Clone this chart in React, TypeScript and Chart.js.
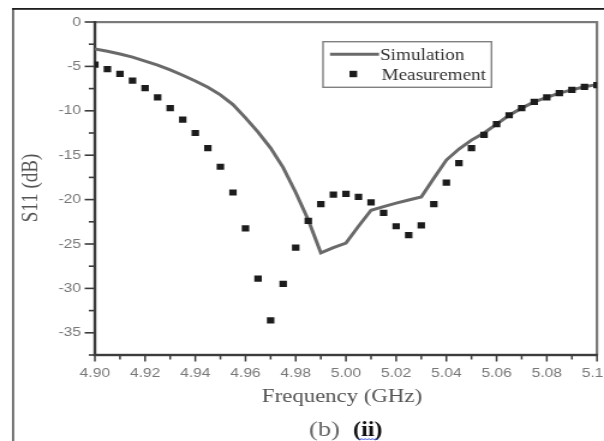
import React, { useEffect, useRef } from 'react';
import { Chart, registerables } from 'chart.js';

Chart.register(...registerables);

// ---------- data ----------
const FREQ_GHZ = [
  4.900, 4.905, 4.910, 4.915, 4.920, 4.925, 4.930, 4.935, 4.940, 4.945,
  4.950, 4.955, 4.960, 4.965, 4.970, 4.975, 4.980, 4.985, 4.990, 4.995,
  5.000, 5.005, 5.010, 5.015, 5.020, 5.025, 5.030, 5.035, 5.040, 5.045,
  5.050, 5.055, 5.060, 5.065, 5.070, 5.075, 5.080, 5.085, 5.090, 5.095,
  5.100,
];

const SIMULATION_DB = [
  -3.05, -3.3, -3.6, -3.95, -4.4, -4.85, -5.4, -6.0, -6.65, -7.35,
  -8.2, -9.3, -10.8, -12.4, -14.2, -16.4, -19.2, -22.3, -26.0, -25.4,
  -24.9, -23.0, -21.2, -20.8, -20.4, -20.05, -19.7, -17.6, -15.55, -14.3,
  -13.3, -12.5, -11.5, -10.5, -9.7, -9.0, -8.5, -8.0, -7.65, -7.3,
  -7.05,
];

const MEASUREMENT_DB = [
  -4.8, -5.3, -5.85, -6.6, -7.45, -8.5, -9.7, -11.0, -12.5, -14.2,
  -16.3, -19.2, -23.25, -28.9, -33.6, -29.5, -25.4, -22.4, -20.5, -19.45,
  -19.35, -19.7, -20.3, -21.5, -23.0, -24.0, -22.9, -20.5, -18.1, -15.9,
  -14.2, -12.7, -11.5, -10.5, -9.7, -9.0, -8.5, -8.0, -7.65, -7.3,
  -7.1,
];

const X_TICK_LABELS = ['4.90', '4.92', '4.94', '4.96', '4.98', '5.00', '5.02', '5.04', '5.06', '5.08', '5.10'];
const Y_TICK_LABELS = ['0', '-5', '-10', '-15', '-20', '-25', '-30', '-35'];

const SERIES_NAMES = ['Simulation', 'Measurement'];
const X_TITLE = 'Frequency (GHz)';
const Y_TITLE = 'S11 (dB)';
const CAPTION_A = '(b)';
const CAPTION_B = '(ii)';

// ---------- layout (internal canvas px; canvas is stretched horizontally) ----------
const W = 503;
const H = 441;
const CSS_W = 604;
const S = CSS_W / W;
const px = (displayX: number) => displayX / S;

const SIM_COLOR = '#6a6a6a';
const MEAS_COLOR = '#1c1c1c';
const AXIS_COLOR = '#3c3c3c';
const BORDER_COLOR = '#7a7a7a';

const isMajorX = (v: number) => X_TICK_LABELS.includes(Number(v).toFixed(2));
const isMajorY = (v: number) => Y_TICK_LABELS.includes(String(Number(v)));

const decorPlugin = {
  id: 'decor',
  beforeDraw(chart: any) {
    const ctx = chart.ctx;
    ctx.save();
    ctx.fillStyle = '#ffffff';
    ctx.fillRect(0, 0, W, H);
    // outer picture frame
    ctx.fillStyle = '#666666';
    ctx.fillRect(px(12), 9, 1.8, H - 9);
    ctx.fillStyle = '#1e1e1e';
    ctx.fillRect(px(12), 8, W - px(12), 1.8);
    ctx.restore();
  },
  beforeDatasetsDraw(chart: any) {
    const ctx = chart.ctx;
    const a = chart.chartArea;
    const xs = chart.scales.x;
    const ys = chart.scales.y;
    const L = Math.round(a.left), R = Math.round(a.right), T = Math.round(a.top), B = Math.round(a.bottom);
    ctx.save();

    // plot border (top/right lighter)
    ctx.fillStyle = BORDER_COLOR;
    ctx.fillRect(L, T - 1, R - L + 1, 2.2);
    ctx.fillRect(R - 1, T - 1, 2.2, B - T + 1);

    // axes
    ctx.fillStyle = AXIS_COLOR;
    ctx.fillRect(L - 1.2, T - 1, 2.4, B - T + 2);
    ctx.fillRect(L - 1.2, B - 1.2, R - L + 2.2, 2.4);

    // tick marks
    for (const t of ys.ticks) {
      const y = ys.getPixelForValue(t.value);
      const len = isMajorY(t.value) ? 7.5 : 4;
      ctx.fillRect(L - 1 - len, y - 0.8, len, 1.6);
    }
    for (const t of xs.ticks) {
      const x = xs.getPixelForValue(t.value);
      const len = isMajorX(t.value) ? 5.5 : 3.5;
      ctx.fillRect(x - 0.75, B + 1, 1.5, len);
    }
    ctx.restore();
  },
  afterDraw(chart: any) {
    const ctx = chart.ctx;
    ctx.save();

    // legend
    const bx0 = px(323), bx1 = px(491.5), by0 = 41.7, by1 = 87.3;
    ctx.fillStyle = '#ffffff';
    ctx.fillRect(bx0, by0, bx1 - bx0, by1 - by0);
    ctx.strokeStyle = '#808080';
    ctx.lineWidth = 1.4;
    ctx.strokeRect(bx0, by0, bx1 - bx0, by1 - by0);
    const ds0 = chart.data.datasets[0];
    const ds1 = chart.data.datasets[1];
    ctx.strokeStyle = ds0.borderColor;
    ctx.lineWidth = ds0.borderWidth;
    ctx.beginPath();
    ctx.moveTo(px(330), 54.3);
    ctx.lineTo(px(379), 54.3);
    ctx.stroke();
    ctx.fillStyle = ds1.backgroundColor;
    ctx.fillRect(px(353.3) - 3.2, 74 - 3.2, 6.4, 6.4);
    ctx.fillStyle = '#333333';
    ctx.font = '16px "Liberation Serif", serif';
    ctx.textAlign = 'left';
    ctx.textBaseline = 'alphabetic';
    ctx.fillText(ds0.label, px(380), 60);
    ctx.fillText(ds1.label, px(381.5), 79.5);

    // axis titles
    ctx.fillStyle = '#555555';
    ctx.font = '19px "Liberation Serif", serif';
    ctx.textAlign = 'center';
    ctx.fillText(X_TITLE, px(342), 402);
    ctx.save();
    ctx.translate(px(31), 188);
    ctx.rotate(-Math.PI / 2);
    ctx.textBaseline = 'middle';
    ctx.fillText(Y_TITLE, 0, 0);
    ctx.restore();

    // caption
    ctx.textAlign = 'left';
    ctx.textBaseline = 'alphabetic';
    ctx.fillStyle = '#666666';
    ctx.font = '22px "Liberation Serif", serif';
    ctx.fillText(CAPTION_A, px(309), 436);
    ctx.fillStyle = '#111111';
    ctx.font = 'bold 20px "Liberation Serif", serif';
    ctx.fillText(CAPTION_B, px(353), 436);
    // spell-check style wavy underline
    ctx.strokeStyle = '#3b4fd8';
    ctx.lineWidth = 1;
    ctx.beginPath();
    const ux0 = px(358), ux1 = px(378);
    for (let x = ux0, i = 0; x <= ux1; x += 1.5, i++) {
      const y = 438.5 + (i % 2 === 0 ? 0 : 1.5);
      if (i === 0) ctx.moveTo(x, y); else ctx.lineTo(x, y);
    }
    ctx.stroke();

    ctx.restore();
  },
};

export default function App() {
  const ref = useRef<HTMLCanvasElement>(null);

  useEffect(() => {
    document.body.style.margin = '0';
    const canvas = ref.current;
    if (!canvas) return;

    const simPoints = FREQ_GHZ.map((f, i) => ({ x: f, y: SIMULATION_DB[i] }));
    const measPoints = FREQ_GHZ.map((f, i) => ({ x: f, y: MEASUREMENT_DB[i] }));

    const chart = new Chart(canvas, {
      type: 'line',
      data: {
        datasets: [
          {
            label: SERIES_NAMES[0],
            data: simPoints,
            borderColor: SIM_COLOR,
            backgroundColor: SIM_COLOR,
            borderWidth: 3,
            pointRadius: 0,
            tension: 0,
            fill: false,
            order: 2,
          },
          {
            label: SERIES_NAMES[1],
            data: measPoints,
            showLine: false,
            pointStyle: 'rect',
            pointRadius: 4.4,
            pointBorderWidth: 0,
            borderWidth: 0,
            backgroundColor: MEAS_COLOR,
            borderColor: MEAS_COLOR,
            order: 1,
          },
        ],
      },
      options: {
        responsive: false,
        animation: false,
        events: [],
        layout: { padding: { left: 0, top: 22, right: W - px(597), bottom: 0 } },
        plugins: {
          legend: { display: false },
          tooltip: { enabled: false },
          title: { display: false },
        },
        scales: {
          x: {
            type: 'linear',
            min: 4.9,
            max: 5.1,
            grid: { display: false, drawTicks: false },
            border: { display: false },
            ticks: {
              stepSize: 0.01,
              autoSkip: false,
              maxRotation: 0,
              padding: 11,
              color: '#777777',
              font: { family: '"Liberation Sans", Arial, sans-serif', size: 13 },
              callback: (v: any) => (isMajorX(v) ? Number(v).toFixed(2) : ''),
            },
            afterFit: (s: any) => {
              s.height = H - 355;
              s.paddingLeft = 0;
              s.paddingRight = 0;
            },
          },
          y: {
            type: 'linear',
            min: -37.5,
            max: 0,
            grid: { display: false, drawTicks: false },
            border: { display: false },
            ticks: {
              stepSize: 2.5,
              autoSkip: false,
              padding: 11.5,
              color: '#777777',
              font: { family: '"Liberation Sans", Arial, sans-serif', size: 13 },
              callback: (v: any) => (isMajorY(v) ? String(Number(v)) : ''),
            },
            afterFit: (s: any) => {
              s.width = Math.round(px(95));
              s.paddingTop = 0;
              s.paddingBottom = 0;
            },
          },
        },
      },
      plugins: [decorPlugin],
    });

    return () => chart.destroy();
  }, []);

  return (
    <canvas
      ref={ref}
      width={W}
      height={H}
      style={{ display: 'block', width: `${CSS_W}px`, height: `${H}px` }}
    />
  );
}
